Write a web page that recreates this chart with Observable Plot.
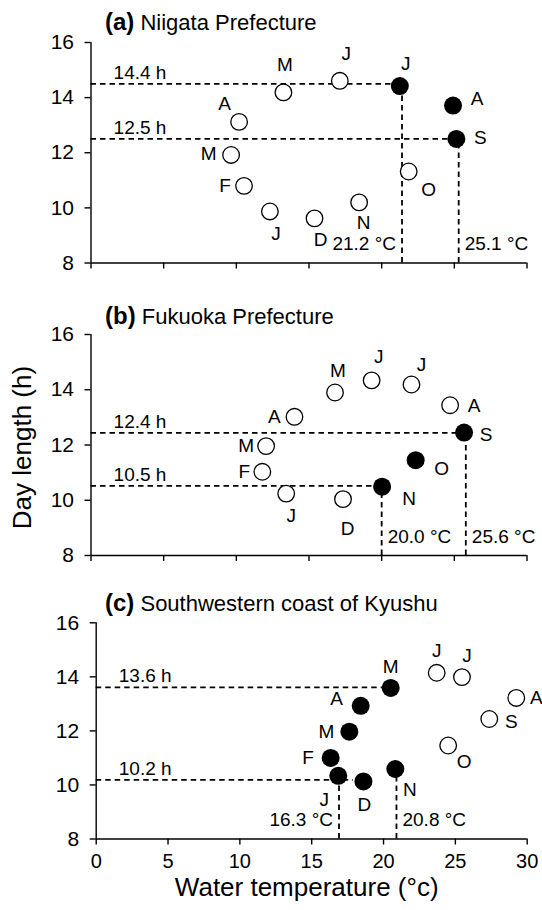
<!DOCTYPE html>
<html><head><meta charset="utf-8">
<script src="https://cdn.jsdelivr.net/npm/d3@7"></script>
<script src="https://cdn.jsdelivr.net/npm/@observablehq/plot@0.6"></script>
<style>
body{margin:0;background:#fff;}
#wrap{position:relative;width:542px;height:910px;font-family:"Liberation Sans",Arial,sans-serif;}
#wrap svg{position:absolute;left:0;overflow:visible;}
</style></head><body><div id="wrap"></div>
<script>
// ---------- data ----------
const months = ["J","F","M","A","M","J","J","A","S","O","N","D"];
const xTicks = [0,5,10,15,20,25,30];
const yTicks = [8,10,12,14,16];

// (a) Niigata Prefecture
const niigataTemp = [12.31,10.53,9.64,10.19,13.24,17.12,21.25,24.91,25.14,21.86,18.45,15.38];
const niigataDay  = [9.87,10.8,11.92,13.12,14.19,14.61,14.42,13.71,12.5,11.32,10.2,9.62];
const niigataFilled = [0,0,0,0,0,0,1,1,1,0,0,0];
const niigataHDay = [14.5,12.5], niigataHTo = [21.4,25.3], niigataHText = ["14.4 h","12.5 h"];
const niigataVTemp = [21.4,25.3], niigataVTo = [14.5,12.5], niigataVText = ["21.2 °C","25.1 °C"];

// (b) Fukuoka Prefecture
const fukuokaTemp = [13.43,11.79,12.05,14.0,16.79,19.31,22.05,24.71,25.67,22.34,20.03,17.34];
const fukuokaDay  = [10.24,11.03,11.96,13.02,13.9,14.34,14.19,13.44,12.45,11.45,10.49,10.04];
const fukuokaFilled = [0,0,0,0,0,0,0,0,1,1,1,0];
const fukuokaHDay = [12.44,10.52], fukuokaHTo = [25.79,20.0], fukuokaHText = ["12.4 h","10.5 h"];
const fukuokaVTemp = [20.0,25.79], fukuokaVTo = [10.52,12.44], fukuokaVText = ["20.0 °C","25.6 °C"];

// (c) Southwestern coast of Kyushu
const kyushuTemp = [16.85,16.32,17.62,18.41,20.5,23.7,25.46,29.24,27.36,24.5,20.82,18.6];
const kyushuDay  = [10.34,11.0,11.97,12.93,13.59,14.15,13.99,13.22,12.44,11.46,10.59,10.13];
const kyushuFilled = [1,1,1,1,1,0,0,0,0,0,1,1];
const kyushuHDay = [13.61,10.19], kyushuHTo = [20.5,17.9], kyushuHText = ["13.6 h","10.2 h"];
const kyushuVTemp = [16.9,20.9], kyushuVTo = [10.19,10.59], kyushuVText = ["16.3 °C","20.8 °C"];

// ---------- styling (label offsets in px, sides) ----------
const offA = [[6,22],[-19,0],[-22.5,-1],[-14.5,-18],[1.5,-27],[6.5,-27],[6,-22],[24,-7],[24,-1],[20,18],[4.5,21],[6,22]];
const offB = [[5,22],[-18,0],[-20,0],[-20,0],[3,-22],[7,-23],[10,-20],[24,1],[22,2],[26,9],[27,12],[4.5,30]];
const offC = [[-14,24],[-22.5,0],[-23,0],[-24,-7],[0,-21],[0,-22],[5,-21],[20,0],[22,3],[16,16],[14.5,21],[1,23]];

const FONT = '"Liberation Sans", Arial, sans-serif';
const wrap = document.getElementById("wrap");

function panel(o) {
  const rows = months.map((m,i)=>({m, t:o.temp[i], d:o.day[i], f:o.filled[i]}));
  const hg = o.hDay.map((d,i)=>({d, to:o.hTo[i], label:o.hText[i]}));
  const vg = o.vTemp.map((t,i)=>({t, to:o.vTo[i], label:o.vText[i]}));
  const dash = {stroke:"#000", strokeWidth:1.8, strokeDasharray:"5.5,4"};
  const marks = [
    Plot.ruleY(hg, {y:"d", x1:0, x2:"to", ...dash, ariaLabel:"guides"}),
    Plot.ruleX(vg, {x:"t", y1:8, y2:"to", ...dash, ariaLabel:"guides"}),
    Plot.ruleX([0], {stroke:"#000", strokeWidth:1.4}),
    Plot.ruleY([8], {stroke:"#000", strokeWidth:1.4}),
    Plot.axisY({ticks:yTicks, tickSize:6, tickPadding:11, fontSize:21, label:null, tickFormat:d=>String(d), strokeWidth:1.4}),
    Plot.axisX({ticks:xTicks, tickSize:6, tickPadding:9, fontSize:20, label:null,
      tickFormat: o.xLabels ? (d=>String(d)) : (()=>""), strokeWidth:1.4}),
    Plot.dot(rows.filter(r=>!r.f), {x:"t", y:"d", r:8.3, stroke:"#000", strokeWidth:1.3, fill:"#fff"}),
    Plot.dot(rows.filter(r=>r.f), {x:"t", y:"d", r:9, fill:"#000", stroke:"none", ariaLabel:"filled"}),
    ...rows.map((r,i)=>Plot.text([r], {x:"t", y:"d", text:"m", dx:o.off[i][0], dy:o.off[i][1], fontSize:19, fill:"#000"})),
    Plot.text(hg, {frameAnchor:"left", y:"d", text:"label", dx:49, dy:-11, fontSize:19, textAnchor:"middle", fill:"#000"}),
    ...vg.map((g,i)=>Plot.text([g], {x:"t", frameAnchor:"bottom", text:"label", dy:-13,
      dx: o.vSide[i]==="left" ? -6 : 6, textAnchor: o.vSide[i]==="left" ? "end" : "start", fontSize:19, fill:"#000"}))
  ];
  if (o.yLabel) marks.push(Plot.text([o.yLabel], {frameAnchor:"left", text:d=>d, dx:-68, dy:2.5, rotate:-90, fontSize:26, textAnchor:"middle", fill:"#000"}));
  if (o.xLabel) marks.push(Plot.text([o.xLabel], {frameAnchor:"bottom", text:d=>d, dx:-5, dy:56.5, fontSize:26, textAnchor:"middle", fill:"#000"}));
  const svg = Plot.plot({
    width:542, height:o.height,
    marginTop:o.mt, marginBottom:o.mb, marginLeft:o.ml, marginRight:o.mr,
    style:{fontFamily:FONT, fontSize:"20px", color:"#000", background:"transparent", overflow:"visible"},
    x:{domain:[0,30]}, y:{domain:[8,16]},
    marks
  });
  svg.style.top = o.top + "px";
  const s = d3.select(svg);
  const defs = s.insert("defs", ":first-child");
  const fl = defs.append("filter").attr("id","ls"+o.id).attr("x","-10%").attr("y","-50%").attr("width","120%").attr("height","200%");
  fl.append("feDropShadow").attr("dx",0.5).attr("dy",2.5).attr("stdDeviation",1.6).attr("flood-color","#000").attr("flood-opacity",0.35);
  const fd = defs.append("filter").attr("id","ds"+o.id).attr("x","-50%").attr("y","-50%").attr("width","200%").attr("height","200%");
  fd.append("feDropShadow").attr("dx",1.5).attr("dy",2).attr("stdDeviation",1.5).attr("flood-color","#000").attr("flood-opacity",0.4);
  s.selectAll('g[aria-label="guides"]').attr("filter","url(#ls"+o.id+")");
  s.selectAll('g[aria-label="filled"]').attr("filter","url(#ds"+o.id+")");
  const title = s.append("text").attr("x",105).attr("y",o.titleY).attr("font-size",22).attr("fill","#000")
    .attr("font-family",FONT).attr("text-anchor","start").style("text-anchor","start");
  title.append("tspan").attr("font-weight","bold").attr("font-size",24).text(o.letter);
  title.append("tspan").text(" " + o.name);
  wrap.appendChild(svg);
}

panel({id:"a", letter:"(a)", name:"Niigata Prefecture", temp:niigataTemp, day:niigataDay, filled:niigataFilled,
  hDay:niigataHDay, hTo:niigataHTo, hText:niigataHText, vTemp:niigataVTemp, vTo:niigataVTo, vText:niigataVText,
  vSide:["left","right"], off:offA, top:0, height:290, mt:42, mb:27.5, ml:90.5, mr:15.5, xLabels:false, titleY:29.5});
panel({id:"b", letter:"(b)", name:"Fukuoka Prefecture", temp:fukuokaTemp, day:fukuokaDay, filled:fukuokaFilled,
  hDay:fukuokaHDay, hTo:fukuokaHTo, hText:fukuokaHText, vTemp:fukuokaVTemp, vTo:fukuokaVTo, vText:fukuokaVText,
  vSide:["right","right"], off:offB, top:290, height:300, mt:44, mb:35, ml:90.5, mr:15.5, xLabels:false, titleY:33.5,
  yLabel:"Day length (h)"});
panel({id:"c", letter:"(c)", name:"Southwestern coast of Kyushu", temp:kyushuTemp, day:kyushuDay, filled:kyushuFilled,
  hDay:kyushuHDay, hTo:kyushuHTo, hText:kyushuHText, vTemp:kyushuVTemp, vTo:kyushuVTo, vText:kyushuVText,
  vSide:["left","right"], off:offC, top:590, height:320, mt:32.3, mb:71.5, ml:95.7, mr:15.3, xLabels:true, titleY:21,
  xLabel:"Water temperature (°c)"});
</script>
</body></html>
